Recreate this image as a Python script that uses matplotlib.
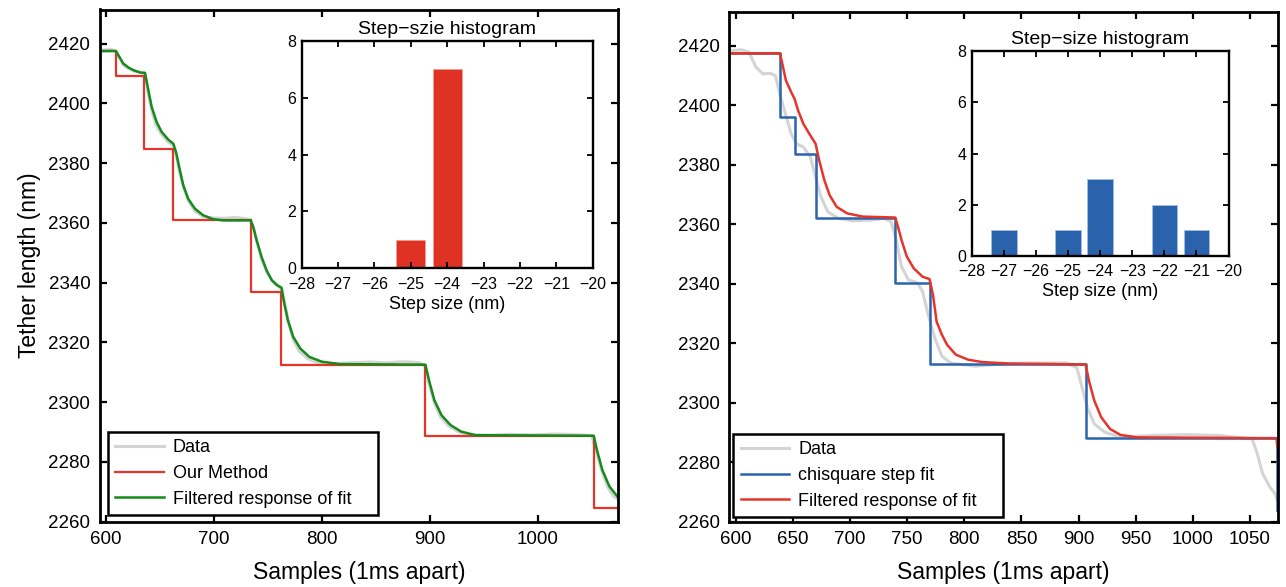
import matplotlib
matplotlib.use('Agg')
import matplotlib.pyplot as plt

plt.rcParams['font.family'] = ['Liberation Sans', 'DejaVu Sans']
plt.rcParams['axes.unicode_minus'] = True

# ---------------- data ----------------
# Left panel
gray_left_x = [594.4, 605, 609, 612, 616, 621, 626, 631, 636, 639, 642, 646, 651, 657, 662, 665, 668,
               672, 676, 682, 690, 700, 710, 720, 728, 734, 737, 740, 744, 749, 754, 758, 763, 766, 769,
               773, 779, 787, 795, 805, 815, 830, 845, 860, 875, 890, 896, 899, 904, 910, 918, 928, 940,
               955, 975, 995, 1015, 1035, 1050, 1054, 1059, 1065, 1070, 1074.5]
gray_left_y = [2417.8, 2418.0, 2417.3, 2415.5, 2412.8, 2411.6, 2410.8, 2410.5, 2409.8, 2403.5, 2398.0,
               2393.0, 2389.8, 2387.2, 2386.0, 2383.0, 2377.0, 2371.8, 2367.5, 2364.0, 2362.0, 2361.6,
               2361.5, 2361.8, 2361.4, 2361.0, 2358.0, 2353.5, 2348.0, 2343.5, 2340.5, 2339.5, 2337.5,
               2332.5, 2327.0, 2321.2, 2317.0, 2314.5, 2313.3, 2312.8, 2312.9, 2313.2, 2313.4, 2313.1,
               2313.5, 2313.2, 2312.0, 2306.8, 2300.0, 2295.0, 2291.8, 2289.8, 2289.0, 2288.9, 2289.2,
               2289.0, 2289.3, 2289.1, 2288.8, 2284.0, 2277.5, 2271.5, 2268.5, 2267.5]

step_left_x = [594.4, 609.2, 635.5, 661.8, 734.5, 762.6, 896.0, 1052.0, 1075.0]
step_left_y = [2417.5, 2409.2, 2384.8, 2360.8, 2336.7, 2312.5, 2288.7, 2264.6, 2264.6]

green_left_x = [594.4, 609.2, 611.4, 616.0, 620.7, 625.3, 631.5, 636.1, 639.2, 642.3, 646.9, 651.6,
                657.8, 662.3, 664.8, 668.5, 671.6, 676.2, 682.4, 690.1, 699.4, 708.7, 734.0, 736.5,
                739.6, 744.2, 748.9, 753.6, 758.0, 762.6, 765.2, 768.5, 773.5, 780.1, 788.4, 800.0,
                816.6, 896.0, 899.3, 904.3, 910.9, 919.2, 929.1, 942.4, 1052.0, 1055.0, 1060.0,
                1066.6, 1074.5]
green_left_y = [2417.5, 2417.5, 2416.1, 2413.3, 2412.0, 2411.1, 2410.3, 2410.2, 2404.4, 2398.8,
                2393.7, 2390.4, 2387.8, 2386.5, 2383.7, 2377.5, 2372.5, 2368.0, 2364.7, 2362.5,
                2361.2, 2360.8, 2360.8, 2358.5, 2354.1, 2348.5, 2344.0, 2340.8, 2339.2, 2338.3,
                2333.0, 2327.4, 2321.8, 2317.9, 2315.1, 2313.5, 2312.7, 2312.5, 2307.3, 2300.6,
                2295.6, 2292.3, 2290.1, 2288.9, 2288.7, 2283.9, 2277.2, 2271.7, 2268.1]

hist_left_centers = [-25, -24]
hist_left_counts = [1, 7]

# Right panel
gray_right_x = [594.5, 605.0, 611.6, 617.8, 623.9, 630.1, 634.7, 639.3, 643.9, 648.5, 653.1, 659.2,
                665.3, 669.9, 674.5, 680.7, 689.9, 702.1, 717.5, 729.8, 735.9, 740.5, 745.1, 751.2,
                758.9, 763.5, 768.1, 774.2, 780.4, 788.0, 809.5, 827.9, 855.5, 889.3, 898.5, 903.1,
                907.7, 913.8, 923.0, 932.2, 947.5, 962.9, 993.6, 1024.2, 1051.8, 1056.4, 1061.0,
                1067.2, 1071.8, 1073.9]
gray_right_y = [2418.3, 2418.6, 2417.8, 2412.7, 2410.5, 2410.7, 2409.9, 2402.7, 2396.5, 2390.4,
                2387.0, 2385.9, 2382.6, 2375.8, 2369.2, 2364.1, 2361.9, 2361.1, 2361.3, 2361.9,
                2360.8, 2354.6, 2345.7, 2341.2, 2340.3, 2337.3, 2330.0, 2321.7, 2315.6, 2313.3,
                2312.2, 2312.8, 2313.3, 2313.3, 2311.7, 2305.0, 2298.3, 2292.8, 2290.0, 2288.9,
                2288.6, 2288.9, 2289.2, 2288.9, 2287.8, 2282.8, 2276.1, 2271.7, 2269.4, 2267.2]

step_right_x = [594.5, 638.7, 651.5, 669.9, 739.6, 769.6, 906.1, 1073.8]
step_right_y = [2417.4, 2396.0, 2383.7, 2361.9, 2340.1, 2312.8, 2288.0, 2263.9]

red_right_x = [594.5, 638.7, 640.8, 643.9, 648.5, 651.5, 654.6, 659.2, 665.3, 669.9, 673.0, 677.6,
               682.2, 688.3, 697.5, 711.3, 739.6, 742.0, 745.1, 749.7, 755.8, 763.5, 769.6, 772.7,
               775.8, 780.4, 785.0, 792.6, 803.4, 815.6, 840.2, 906.1, 909.2, 913.8, 919.9, 927.6,
               936.8, 950.6, 1073.3, 1073.9]
red_right_y = [2417.4, 2417.4, 2413.9, 2408.3, 2404.4, 2402.1, 2398.2, 2393.7, 2389.8, 2387.0,
               2381.5, 2374.7, 2369.7, 2365.8, 2363.6, 2362.5, 2362.2, 2359.1, 2354.6, 2349.1,
               2345.1, 2342.3, 2341.5, 2336.0, 2327.2, 2322.8, 2319.4, 2316.1, 2314.4, 2313.6,
               2313.1, 2312.8, 2307.2, 2300.6, 2295.0, 2291.1, 2289.1, 2288.3, 2288.0, 2285.0]

hist_right_centers = [-27, -25, -24, -22, -21]
hist_right_counts = [1, 1, 3, 2, 1]

left_xticks = [600, 700, 800, 900, 1000]
right_xticks = [600, 650, 700, 750, 800, 850, 900, 950, 1000, 1050]
yticks = [2260, 2280, 2300, 2320, 2340, 2360, 2380, 2400, 2420]
hist_xticks = [-28, -27, -26, -25, -24, -23, -22, -21, -20]
hist_yticks = [0, 2, 4, 6, 8]

# ---------------- colours ----------------
C_GRAY = '#d4d4d4'
C_RED = '#e5352a'
C_GREEN = '#168a1c'
C_BLUE = '#2a63ae'
C_HRED = '#df3224'
C_HBLUE = '#2b62ac'

W, H = 1286, 587
fig = plt.figure(figsize=(W / 100, H / 100), dpi=100)


def frac(x0, y0, x1, y1):
    return [x0 / W, (H - y1) / H, (x1 - x0) / W, (y1 - y0) / H]


def style_main(ax, xticks):
    for s in ax.spines.values():
        s.set_linewidth(2.0)
    ax.tick_params(direction='in', top=True, right=True, length=5, width=1.6,
                   labelsize=13.5, pad=7)
    ax.set_xticks(xticks)
    ax.set_yticks(yticks)
    ax.set_xlim(594.4, 1074.5)
    ax.set_ylim(2260, 2431.4)


def style_inset(ax, title, labelsize):
    for s in ax.spines.values():
        s.set_linewidth(1.7)
    ax.tick_params(direction='in', top=True, right=True, length=4, width=1.3,
                   labelsize=labelsize)
    ax.tick_params(axis='x', pad=6)
    ax.tick_params(axis='y', pad=4)
    ax.set_xlim(-28, -20)
    ax.set_ylim(0, 8)
    ax.set_xticks(hist_xticks)
    ax.set_yticks(hist_yticks)
    ax.set_title(title, fontsize=14, pad=5)
    ax.set_xlabel('Step size (nm)', fontsize=13, labelpad=3)


def make_legend(ax, handles, x0, y0, w, h):
    leg = ax.legend(handles=handles, loc='lower left', bbox_to_anchor=(x0, y0, w, h),
                    mode='expand', borderaxespad=0, fontsize=13, frameon=True, fancybox=False,
                    framealpha=1, edgecolor='black', handlelength=2.7, handletextpad=0.5,
                    labelspacing=0.48, borderpad=0.4)
    leg.get_frame().set_linewidth(1.8)
    return leg


# ---------------- left panel ----------------
ax1 = fig.add_axes(frac(100, 9.5, 618, 521.5))
l1, = ax1.plot(gray_left_x, gray_left_y, color=C_GRAY, lw=2.2, label='Data')
l2, = ax1.step(step_left_x, step_left_y, where='post', color=C_RED, lw=1.6, label='Our Method')
l3, = ax1.plot(green_left_x, green_left_y, color=C_GREEN, lw=1.8, label='Filtered response of fit')
style_main(ax1, left_xticks)
ax1.set_xlabel('Samples (1ms apart)', fontsize=16.5, labelpad=9)
ax1.set_ylabel('Tether length (nm)', fontsize=16.5, labelpad=5)
make_legend(ax1, [l1, l2, l3], 8 / 518, 6.5 / 512, 270 / 518, 85 / 512)

ins1 = fig.add_axes(frac(301.7, 41, 592.7, 268.3))
ins1.bar(hist_left_centers, hist_left_counts, width=0.8, color=C_HRED, edgecolor='#f0a090', lw=0.6)
style_inset(ins1, 'Step\u2212szie histogram', 11.5)

# ---------------- right panel ----------------
ax2 = fig.add_axes(frac(729.3, 11.7, 1278, 521.5))
r1, = ax2.plot(gray_right_x, gray_right_y, color=C_GRAY, lw=2.2, label='Data')
r2, = ax2.step(step_right_x, step_right_y, where='post', color=C_BLUE, lw=1.8, label='chisquare step fit')
r3, = ax2.plot(red_right_x, red_right_y, color=C_RED, lw=1.8, label='Filtered response of fit')
style_main(ax2, right_xticks)
ax2.set_xlabel('Samples (1ms apart)', fontsize=16.5, labelpad=9)
make_legend(ax2, [r1, r2, r3], 4 / 549, 4.5 / 510, 270 / 549, 85 / 510)

ins2 = fig.add_axes(frac(971.7, 51, 1228.6, 256))
ins2.bar(hist_right_centers, hist_right_counts, width=0.8, color=C_HBLUE, edgecolor='#a0c0e8', lw=0.6)
style_inset(ins2, 'Step\u2212size histogram', 11.5)

fig.savefig('out.png', dpi=100)
